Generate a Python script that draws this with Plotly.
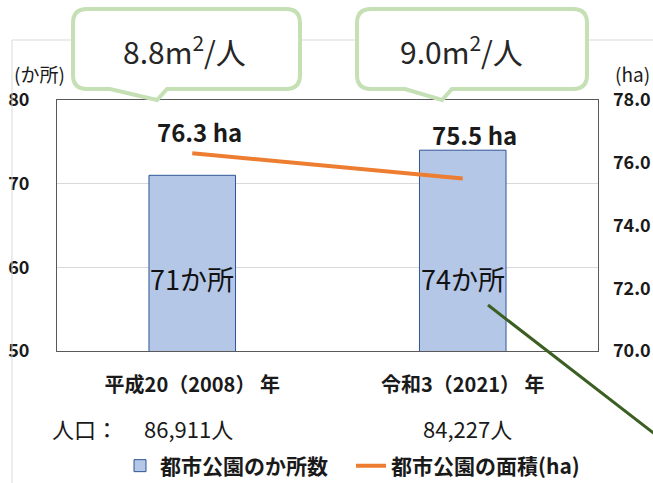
import plotly.graph_objects as go

# --- data -------------------------------------------------------------
years = ["平成20（2008） 年", "令和3（2021） 年"]
park_counts = [71, 74]            # 都市公園のか所数
park_area_ha = [76.3, 75.5]       # 都市公園の面積 (ha)
population = [86911, 84227]       # 人口
count_ticks = [50, 60, 70, 80]
area_ticks = [70, 72, 74, 76, 78]

# --- layout geometry (pixels) -------------------------------------------
W, H = 653, 483
L, R, T, B = 57, 55, 100, 132
PW, PH = W - L - R, H - T - B

FONT = "Noto Sans CJK JP, Noto Sans, sans-serif"
INK = "#1a1a1a"


def px_x(px):
    return (px - L) / PW


def px_y(py):
    return (T + PH - py) / PH


def callout_path(x0, x1, y0, y1, r, base_l, tip, base_r):
    """Rounded speech bubble with a pointer on its bottom edge (pixel coords in, paper out)."""
    def p(x, y):
        return f"{px_x(x):.5f},{px_y(y):.5f}"
    tx, ty = tip
    return (
        f"M{p(x0 + r, y0)} L{p(x1 - r, y0)} Q{p(x1, y0)} {p(x1, y0 + r)} "
        f"L{p(x1, y1 - r)} Q{p(x1, y1)} {p(x1 - r, y1)} "
        f"L{p(base_r, y1)} L{p(tx, ty)} L{p(base_l, y1)} "
        f"L{p(x0 + r, y1)} Q{p(x0, y1)} {p(x0, y1 - r)} "
        f"L{p(x0, y0 + r)} Q{p(x0, y0)} {p(x0 + r, y0)} Z"
    )


def text_at(x, y, text, size, xref="paper", yref="paper", xanchor="center",
            weight="normal", color=INK, **kw):
    return dict(
        x=x, y=y, xref=xref, yref=yref, text=text, showarrow=False,
        xanchor=xanchor, yanchor="middle",
        font=dict(family=FONT, size=size, color=color, weight=weight), **kw,
    )


fig = go.Figure()

fig.add_trace(go.Bar(
    x=years, y=park_counts, name="都市公園のか所数",
    width=0.32,
    marker=dict(color="#b4c7e7", line=dict(color="#2f5597", width=1)),
    hoverinfo="skip",
))

fig.add_trace(go.Scatter(
    x=years, y=park_area_ha, name="都市公園の面積(ha)", yaxis="y2",
    mode="lines", line=dict(color="#ed7d31", width=4),
    hoverinfo="skip",
))

annotations = []

# count labels inside the bars
for cat, v in zip(years, park_counts):
    annotations.append(text_at(cat, 58.7, f"{v}か所", 27, xref="x", yref="y",
                               color="#111111"))

# area labels above the line
for cat, v, dx, dy in zip(years, park_area_ha, [7, 12], [22, 44]):
    annotations.append(text_at(cat, v, f"{v:.1f} ha", 24, xref="x", yref="y2",
                               weight="bold", xshift=dx, yshift=dy))

# population row
annotations.append(text_at(px_x(50), px_y(428), "人口：", 22, xanchor="left"))
for cat, pop, dx in zip(years, population, [-4, 5]):
    annotations.append(text_at(cat, px_y(428), f"{pop:,}人", 22, xref="x", xshift=dx))

# axis unit captions
annotations.append(text_at(px_x(12), px_y(73), "(か所)", 19, xanchor="left"))
annotations.append(text_at(px_x(613), px_y(73), "(ha)", 19, xanchor="left"))

# per-capita park area bubbles
bubbles = [
    dict(x0=73, x1=300, tip=(157, 100), bl=110, br=167, cx=184),
    dict(x0=357, x1=587, tip=(442, 100), bl=405, br=452, cx=461),
]
shapes = [
    # outer frame of the chart panel
    dict(type="line", xref="paper", yref="paper",
         x0=px_x(12), y0=px_y(40), x1=px_x(W + 5), y1=px_y(40),
         line=dict(color="#d9d9d9", width=1), layer="above"),
    dict(type="line", xref="paper", yref="paper",
         x0=px_x(12), y0=px_y(40), x1=px_x(12), y1=px_y(H + 5),
         line=dict(color="#d9d9d9", width=1), layer="above"),
]
for b, area, pop in zip(bubbles, park_area_ha, population):
    per_capita = area * 10000 / pop
    shapes.append(dict(
        type="path", xref="paper", yref="paper",
        path=callout_path(b["x0"], b["x1"], 9, 89, 14, b["bl"], b["tip"], b["br"]),
        fillcolor="white", line=dict(color="#c5e0b4", width=4), layer="above",
    ))
    annotations.append(text_at(px_x(b["cx"]), px_y(50),
                               f"{per_capita:.1f}m<sup>2</sup>/人", 30,
                               color="#262626"))

# leader line running off to the right
shapes.append(dict(
    type="line", xref="paper", yref="paper",
    x0=px_x(488), y0=px_y(305), x1=px_x(665), y1=px_y(442),
    line=dict(color="#3b5e22", width=3), layer="above",
))

fig.update_layout(
    width=W, height=H,
    margin=dict(l=L, r=R, t=T, b=B, autoexpand=False),
    paper_bgcolor="white", plot_bgcolor="white",
    font=dict(family=FONT, color=INK),
    showlegend=True,
    legend=dict(
        orientation="h", x=px_x(351), y=px_y(466), xanchor="center", yanchor="middle",
        font=dict(family=FONT, size=21, color=INK, weight="bold"),
        itemwidth=30, traceorder="normal", bgcolor="rgba(0,0,0,0)",
        entrywidth=186,
    ),
    xaxis=dict(
        type="category", showline=True, mirror=True, linecolor="#595959", linewidth=1,
        ticks="", showgrid=False, ticklabelstandoff=16,
        tickfont=dict(family=FONT, size=20, color=INK, weight="bold"),
    ),
    yaxis=dict(
        range=[50, 80], tickvals=count_ticks, showline=True, mirror=True,
        linecolor="#595959", linewidth=1, gridcolor="#d9d9d9", gridwidth=1,
        ticks="", zeroline=False, ticklabelstandoff=23,
        tickfont=dict(family=FONT, size=18, color=INK, weight="bold"),
    ),
    yaxis2=dict(
        range=[70, 78], tickvals=area_ticks, tickformat=".1f", overlaying="y",
        side="right", showgrid=False, zeroline=False, ticks="", ticklabelstandoff=14,
        tickfont=dict(family=FONT, size=18, color=INK, weight="bold"),
    ),
    shapes=shapes,
    annotations=annotations,
)

fig.write_html("out.html")
